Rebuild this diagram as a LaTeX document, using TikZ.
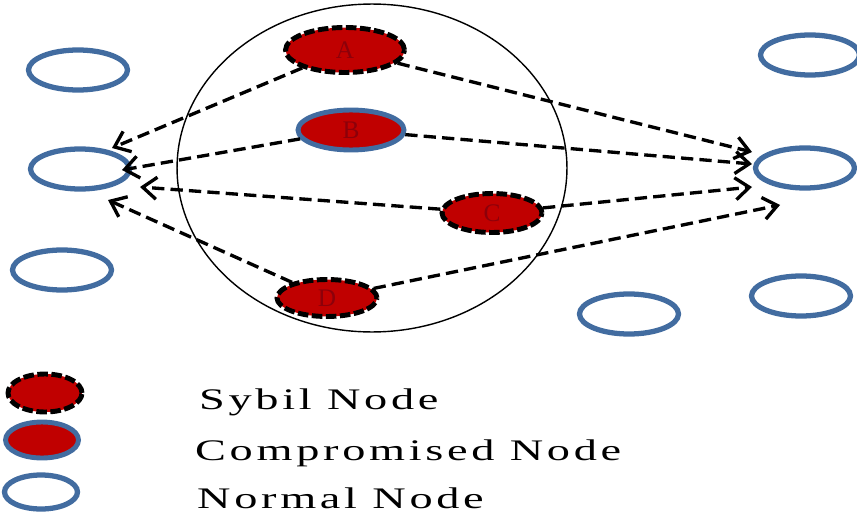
\documentclass[tikz,border=0pt]{standalone}
\usepackage{fontspec}
\setmainfont{Liberation Serif}
\newfontfamily\legendfont[LetterSpace=8]{Liberation Serif}
\usetikzlibrary{arrows.meta, shapes.geometric}

\definecolor{sybred}{RGB}{192,0,0}
\definecolor{letred}{RGB}{140,0,10}
\definecolor{nodeblue}{RGB}{66,108,160}

\begin{document}
\begin{tikzpicture}[x=0.02cm, y=-0.02cm,
    sybil/.style={ellipse, draw=black, line width=2.8pt, dash pattern=on 6pt off 2pt, fill=sybred, inner sep=0pt, font=\Large, text=letred},
    comp/.style={ellipse, draw=nodeblue, line width=2.8pt, fill=sybred, inner sep=0pt, font=\Large, text=letred},
    normal/.style={ellipse, draw=nodeblue, line width=3pt, fill=white, inner sep=0pt, minimum width=1.98cm, minimum height=0.8cm},
    link/.style={-{Straight Barb[length=2.8mm, width=4.4mm]}, line width=1.9pt, dash pattern=on 7pt off 3.5pt},
    legend/.style={anchor=west, font=\legendfont\fontsize{17}{20}\selectfont}
]
\useasboundingbox (0,0) rectangle (857,517);

% group of attacker identities
\node[draw, ellipse, line width=0.8pt, minimum width=7.8cm, minimum height=6.56cm] (group) at (372,168) {};

% normal nodes
\node[normal] (nTL) at (78,70) {};
\node[normal] (nL) at (80,169) {};
\node[normal] (nBL) at (62,270) {};
\node[normal] (nTR) at (810,55) {};
\node[normal] (nR) at (805,168) {};
\node[normal] (nBR) at (801,296) {};
\node[normal] (nB) at (629,314) {};

% sybil and compromised nodes
\node[sybil, minimum width=2.38cm, minimum height=0.9cm] (A) at (345,50) {A};
\node[comp, minimum width=2.12cm, minimum height=0.8cm] (B) at (351,130) {B};
\node[sybil, minimum width=2cm, minimum height=0.78cm] (C) at (492,213) {C};
\node[sybil, minimum width=2cm, minimum height=0.74cm] (D) at (327,298) {D};

% arrow ends
\coordinate (inA) at (112,148);
\coordinate (inB) at (122,170);
\coordinate (inC) at (140,187);
\coordinate (inD) at (108,200);
\coordinate (outA) at (752,152);
\coordinate (outB) at (752,164);
\coordinate (outC) at (752,187);
\coordinate (outD) at (780,205);

\draw[link] (A) -- (inA);
\draw[link] (B) -- (inB);
\draw[link] (C) -- (inC);
\draw[link] (D) -- (inD);
\draw[link] (A) -- (outA);
\draw[link] (B) -- (outB);
\draw[link] (C) -- (outC);
\draw[link] (D) -- (outD);

% legend
\node[sybil, minimum width=1.48cm, minimum height=0.76cm] (legS) at (45,393) {};
\node[comp, minimum width=1.46cm, minimum height=0.72cm] (legC) at (42,440) {};
\node[normal, minimum width=1.46cm, minimum height=0.68cm] (legN) at (41,492) {};
\node[legend] (txtS) at (193,402) {\scalebox{1.55}[1]{Sybil Node}};
\node[legend] (txtC) at (189,453) {\scalebox{1.55}[1]{Compromised Node}};
\node[legend] (txtN) at (191,498) {\scalebox{1.55}[1]{Normal Node}};
\end{tikzpicture}
\end{document}
